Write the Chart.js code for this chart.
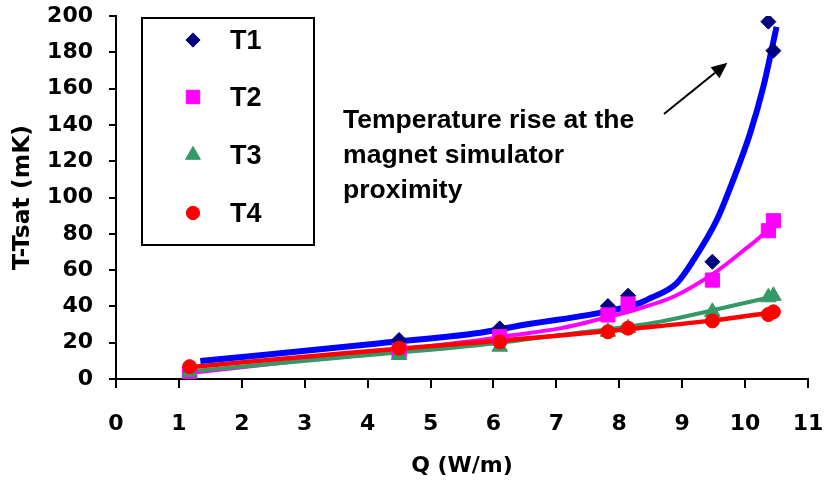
<!DOCTYPE html>
<html lang="en">
<head>
<meta charset="UTF-8">
<title>T-Tsat vs Q</title>
<script src="https://cdn.jsdelivr.net/npm/chart.js"></script>
<style>
  body { margin: 0; background: #fff; }
  #wrap { width: 826px; height: 482px; }
</style>
</head>
<body>
<div id="wrap"><canvas id="chart" width="826" height="482"></canvas></div>
<script>
// measured points (Q in W/m, T-Tsat in mK)
const q  = [1.17, 4.5, 6.1, 7.82, 8.14, 9.48, 10.37, 10.45];
const t1 = [6.5, 21.5, 27.9, 40.2, 45.9, 64.6, 196.9, 180.9];
const t2 = [3.0, 15.5, 23.3, 35.3, 41.3, 54.5, 81.7, 87.2];
const t3 = [4.0, 13.2, 17.8, 26.0, 28.0, 37.0, 45.0, 45.8];
const t4 = [6.8, 17.0, 20.5, 26.0, 28.0, 32.0, 35.5, 37.0];

// trend curves
const fit1Q = [1.34, 4.2, 5.79, 6.32, 8.33, 8.49, 8.91, 9.18, 9.55, 9.81, 10.08, 10.29, 10.5];
const fit1T = [9.9, 19.7, 25.5, 28.8, 42.0, 44.5, 52.7, 65.6, 87.6, 109.6, 135.4, 161.0, 194.0];
const fit2Q = [1.17, 4.2, 5.79, 6.32, 7.06, 7.84, 8.33, 8.86, 9.5, 9.92, 10.4, 10.45];
const fit2T = [3.3, 15.0, 21.5, 24.2, 27.9, 34.3, 39.0, 45.3, 58.2, 69.3, 83.9, 86.5];
const fit3Q = [1.17, 3.72, 5.79, 7.06, 8.65, 9.5, 10.45];
const fit3T = [4.2, 12.3, 18.7, 24.2, 31.6, 38.0, 45.5];
const fit4Q = [1.17, 3.72, 5.79, 7.06, 8.3, 9.5, 10.45];
const fit4T = [6.5, 14.5, 20.3, 24.0, 28.0, 32.3, 36.8];

const xTicks = [0, 1, 2, 3, 4, 5, 6, 7, 8, 9, 10, 11];
const yTicks = [0, 20, 40, 60, 80, 100, 120, 140, 160, 180, 200];

const seriesNames = ['T1', 'T2', 'T3', 'T4'];
const noteLines = ['Temperature rise at the', 'magnet simulator', 'proximity'];

function pts(xs, ys) {
  return xs.map((x, i) => ({ x: x, y: ys[i] }));
}

const markerStyle = [
  { pointStyle: 'rectRot', radius: 7.5, color: '#000080' },
  { pointStyle: 'rect', radius: 10, color: '#FF00FF' },
  { pointStyle: 'triangle', radius: 9, color: '#339966' },
  { pointStyle: 'circle', radius: 7, color: '#FF0000' }
];

function markers(i, ys) {
  const s = markerStyle[i];
  return {
    label: seriesNames[i],
    data: pts(q, ys),
    showLine: false,
    pointStyle: s.pointStyle,
    pointRadius: s.radius,
    pointBackgroundColor: s.color,
    pointBorderColor: s.color,
    pointBorderWidth: 1,
    order: 0
  };
}

function curve(xs, ys, color, width) {
  return {
    data: pts(xs, ys),
    showLine: true,
    borderColor: color,
    borderWidth: width,
    pointRadius: 0,
    cubicInterpolationMode: 'monotone',
    order: 1
  };
}

// legend box + note + arrow
const extras = {
  id: 'extras',
  afterDatasetsDraw(chart) {
    const ctx = chart.ctx;
    const xs = chart.scales.x, ys = chart.scales.y;
    ctx.save();

    // legend
    ctx.strokeStyle = '#000';
    ctx.lineWidth = 2;
    ctx.fillStyle = '#fff';
    ctx.fillRect(142, 18, 172, 227);
    ctx.strokeRect(142, 18, 172, 227);
    const rowY = [40, 97, 155, 213];
    ctx.font = 'bold 27px "Liberation Sans", Arial, sans-serif';
    ctx.textBaseline = 'middle';
    ctx.textAlign = 'left';
    markerStyle.forEach((s, i) => {
      ctx.fillStyle = s.color;
      ctx.strokeStyle = s.color;
      ctx.lineWidth = 1;
      Chart.helpers.drawPoint(ctx, { pointStyle: s.pointStyle, radius: s.radius * 0.95, rotation: 0, borderWidth: 1 }, 193, rowY[i]);
      ctx.fillStyle = '#000';
      ctx.fillText(seriesNames[i], 230, rowY[i] + 2);
    });

    // note
    ctx.font = 'bold 26.5px "Liberation Sans", Arial, sans-serif';
    ctx.textBaseline = 'alphabetic';
    ctx.fillStyle = '#000';
    const nx = xs.getPixelForValue(3.61);
    const ny = ys.getPixelForValue(138.3);
    noteLines.forEach((line, i) => ctx.fillText(line, nx, ny + i * 35));

    // arrow
    const x0 = xs.getPixelForValue(8.71), y0 = ys.getPixelForValue(146);
    const x1 = xs.getPixelForValue(9.72), y1 = ys.getPixelForValue(174.3);
    const a = Math.atan2(y1 - y0, x1 - x0);
    const hl = 16, hw = 7;
    const bx = x1 - hl * Math.cos(a), by = y1 - hl * Math.sin(a);
    ctx.strokeStyle = '#000';
    ctx.lineWidth = 2;
    ctx.beginPath();
    ctx.moveTo(x0, y0);
    ctx.lineTo(bx, by);
    ctx.stroke();
    ctx.fillStyle = '#000';
    ctx.beginPath();
    ctx.moveTo(x1, y1);
    ctx.lineTo(bx + hw * Math.sin(a), by - hw * Math.cos(a));
    ctx.lineTo(bx - hw * Math.sin(a), by + hw * Math.cos(a));
    ctx.closePath();
    ctx.fill();
    ctx.restore();
  }
};

Chart.defaults.font.family = '"DejaVu Sans", sans-serif';
Chart.defaults.font.weight = 'bold';
Chart.defaults.font.size = 22;
Chart.defaults.color = '#000';

new Chart(document.getElementById('chart'), {
  type: 'scatter',
  data: {
    // first dataset is painted on top
    datasets: [
      markers(3, t4),
      markers(2, t3),
      markers(1, t2),
      markers(0, t1),
      curve(fit1Q, fit1T, '#0000FF', 6),
      curve(fit4Q, fit4T, '#FF0000', 4.5),
      curve(fit3Q, fit3T, '#339966', 4),
      curve(fit2Q, fit2T, '#FF00FF', 4)
    ]
  },
  options: {
    responsive: false,
    animation: false,
    layout: { padding: { left: 0, top: 16, right: 18, bottom: 0 } },
    plugins: {
      legend: { display: false },
      tooltip: { enabled: false }
    },
    scales: {
      x: {
        type: 'linear',
        min: 0,
        max: 11,
        afterFit: s => { s.height = 103; s.paddingLeft = 0; s.paddingRight = 0; },
        afterBuildTicks: s => { s.ticks = xTicks.map(v => ({ value: v })); },
        ticks: { padding: 23 },
        grid: { drawOnChartArea: false, drawTicks: true, tickLength: 9, color: '#000', lineWidth: 2 },
        border: { display: true, color: '#000', width: 2 },
        title: { display: true, text: 'Q (W/m)', padding: { top: 0, bottom: 3 } }
      },
      y: {
        type: 'linear',
        min: 0,
        max: 200,
        afterFit: s => { s.width = 116; s.paddingTop = 0; s.paddingBottom = 0; },
        afterBuildTicks: s => { s.ticks = yTicks.map(v => ({ value: v })); },
        ticks: { padding: 16 },
        grid: { drawOnChartArea: false, drawTicks: true, tickLength: 7, color: '#000', lineWidth: 2 },
        border: { display: true, color: '#000', width: 2 },
        title: { display: true, text: 'T-Tsat (mK)', font: { size: 23.5 }, padding: { top: 9, bottom: 0 } }
      }
    }
  },
  plugins: [extras]
});
</script>
</body>
</html>
